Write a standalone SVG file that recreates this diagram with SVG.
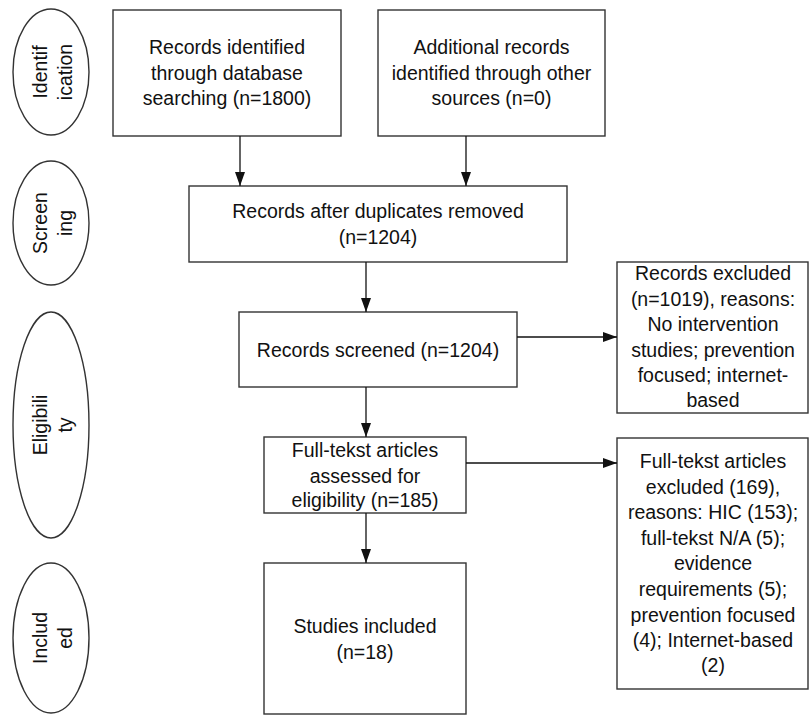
<svg xmlns="http://www.w3.org/2000/svg" width="809" height="715" viewBox="0 0 809 715">
<style>
.b{fill:#fff;stroke:#333;stroke-width:1.4}
.t{font-family:"Liberation Sans",Arial,sans-serif;font-size:19.5px;fill:#111;text-anchor:middle}
.c{stroke:#111;stroke-width:1.3;fill:none;marker-end:url(#ah)}
</style>
<defs>
<marker id="ah" markerWidth="14" markerHeight="10" refX="14" refY="5" orient="auto" markerUnits="userSpaceOnUse">
<path d="M0,0 L14,5 L0,10 Z" fill="#111"/>
</marker>
</defs>
<rect width="809" height="715" fill="#fff"/>
<g id="phase-identification">
<ellipse class="b" cx="51" cy="72" rx="38" ry="63"/>
<text class="t" transform="translate(51,72) rotate(-90)"><tspan x="0" y="-4">Identif</tspan><tspan x="0" y="21">ication</tspan></text>
</g>
<g id="phase-screening">
<ellipse class="b" cx="51" cy="223" rx="38" ry="62"/>
<text class="t" transform="translate(51,223) rotate(-90)"><tspan x="0" y="-4">Screen</tspan><tspan x="0" y="21">ing</tspan></text>
</g>
<g id="phase-eligibility">
<ellipse class="b" cx="51" cy="425" rx="38" ry="113"/>
<text class="t" transform="translate(51,425) rotate(-90)"><tspan x="0" y="-4">Eligibili</tspan><tspan x="0" y="21">ty</tspan></text>
</g>
<g id="phase-included">
<ellipse class="b" cx="51" cy="638" rx="38" ry="75"/>
<text class="t" transform="translate(51,638) rotate(-90)"><tspan x="0" y="-4">Includ</tspan><tspan x="0" y="21">ed</tspan></text>
</g>
<g id="n-database">
<rect class="b" x="113" y="10" width="228" height="126"/>
<text class="t"><tspan x="227" y="54">Records identified</tspan><tspan x="227" y="80">through database</tspan><tspan x="227" y="105">searching (n=1800)</tspan></text>
</g>
<g id="n-other">
<rect class="b" x="378" y="10" width="227" height="126"/>
<text class="t"><tspan x="491.5" y="54">Additional records</tspan><tspan x="491.5" y="80">identified through other</tspan><tspan x="491.5" y="105">sources (n=0)</tspan></text>
</g>
<g id="n-duplicates">
<rect class="b" x="189" y="186" width="378" height="76"/>
<text class="t"><tspan x="378" y="218">Records after duplicates removed</tspan><tspan x="378" y="244">(n=1204)</tspan></text>
</g>
<g id="n-screened">
<rect class="b" x="239" y="312" width="278" height="75"/>
<text class="t"><tspan x="378" y="357">Records screened (n=1204)</tspan></text>
</g>
<g id="n-fulltext">
<rect class="b" x="264" y="437" width="202" height="76"/>
<text class="t"><tspan x="365" y="457">Full-tekst articles</tspan><tspan x="365" y="483">assessed for</tspan><tspan x="365" y="507">eligibility (n=185)</tspan></text>
</g>
<g id="n-included">
<rect class="b" x="264" y="563" width="202" height="151"/>
<text class="t"><tspan x="365" y="633">Studies included</tspan><tspan x="365" y="659">(n=18)</tspan></text>
</g>
<g id="n-excluded1">
<rect class="b" x="617" y="262" width="191" height="151"/>
<text class="t"><tspan x="713" y="280">Records excluded</tspan><tspan x="713" y="306">(n=1019), reasons:</tspan><tspan x="713" y="331">No intervention</tspan><tspan x="713" y="357">studies; prevention</tspan><tspan x="713" y="382">focused; internet-</tspan><tspan x="713" y="407">based</tspan></text>
</g>
<g id="n-excluded2">
<rect class="b" x="617" y="438" width="191" height="251"/>
<text class="t"><tspan x="713" y="468">Full-tekst articles</tspan><tspan x="713" y="494">excluded (169),</tspan><tspan x="713" y="519">reasons: HIC (153);</tspan><tspan x="713" y="545">full-tekst N/A (5);</tspan><tspan x="713" y="570">evidence</tspan><tspan x="713" y="596">requirements (5);</tspan><tspan x="713" y="622">prevention focused</tspan><tspan x="713" y="647">(4); Internet-based</tspan><tspan x="713" y="672">(2)</tspan></text>
</g>
<g id="connectors">
<path class="c" d="M240,136 V186"/>
<path class="c" d="M466,136 V186"/>
<path class="c" d="M366,262 V312"/>
<path class="c" d="M366,387 V437"/>
<path class="c" d="M366,513 V563"/>
<path class="c" d="M517,337 H617"/>
<path class="c" d="M466,463 H617"/>
</g>
</svg>
